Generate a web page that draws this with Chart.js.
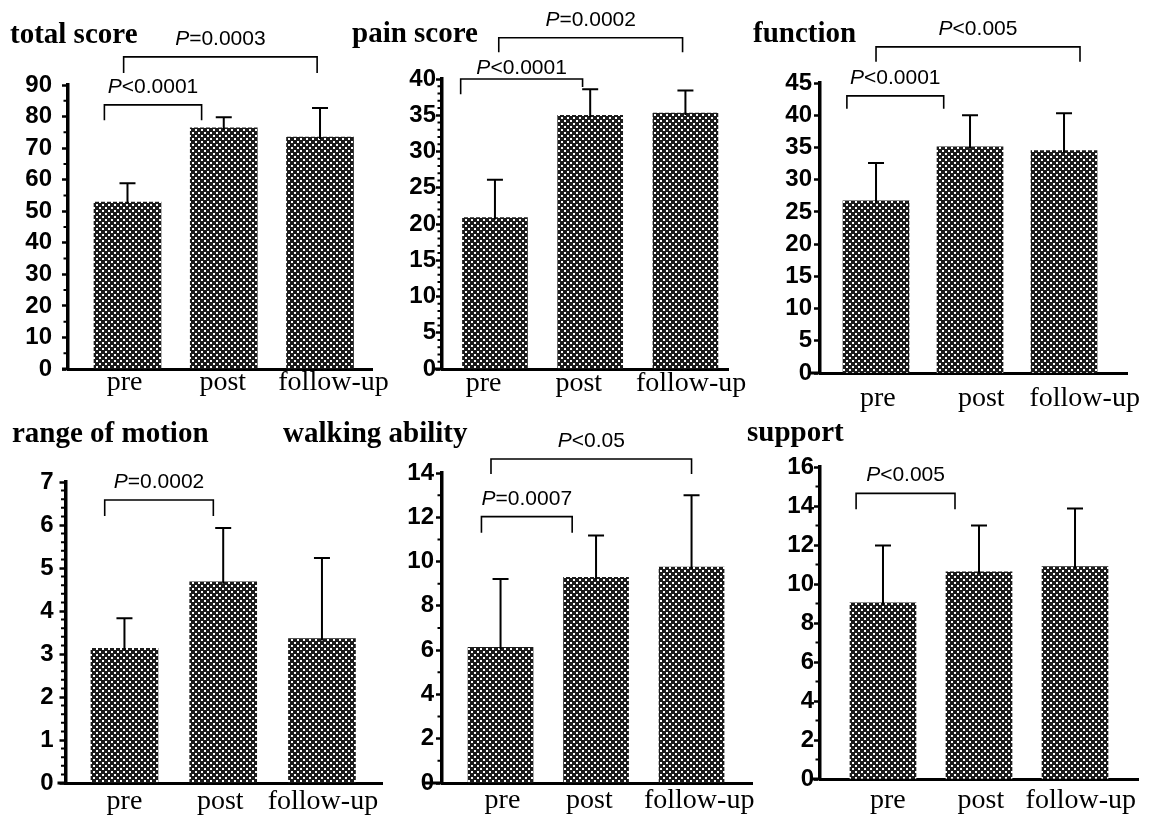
<!DOCTYPE html>
<html>
<head>
<meta charset="utf-8">
<script src="https://cdn.jsdelivr.net/npm/chart.js@4.4.1/dist/chart.umd.min.js"></script>
<style>
  html, body { margin: 0; padding: 0; background: #fff; }
  #wrap { position: relative; width: 1158px; height: 820px; overflow: hidden; }
  #wrap canvas { position: absolute; left: 0; top: 0; }
</style>
</head>
<body>
<div id="wrap"></div>
<script>
// Scores before / after / at follow-up (mean and upper SD)
const categories = ['pre', 'post', 'follow-up'];

const totalMean = [52.9, 76.4, 73.5];
const totalSD = [6.0, 3.4, 9.2];
const painMean = [20.9, 35.0, 35.3];
const painSD = [5.2, 3.6, 3.1];
const functionMean = [26.7, 35.1, 34.5];
const functionSD = [5.9, 4.9, 5.8];
const romMean = [3.13, 4.68, 3.36];
const romSD = [0.70, 1.25, 1.87];
const walkingMean = [6.13, 9.29, 9.75];
const walkingSD = [3.08, 1.89, 3.24];
const supportMean = [9.04, 10.63, 10.89];
const supportSD = [2.94, 2.37, 2.98];

// y axis: max, labelled step, minor step (0 = none)
const totalAxis = [90, 10, 5];
const painAxis = [40, 5, 1];
const functionAxis = [45, 5, 0];
const romAxis = [7, 1, 0.2];
const walkingAxis = [14, 2, 1];
const supportAxis = [16, 2, 1];

// significance brackets: x in category units, y in score units
const totalBrackets = [
    { label: 'P<0.0001', x1: -0.24, x2: 0.77, top: 83.7, leg1: 78.8, leg2: 78.8 },
    { label: 'P=0.0003', x1: -0.04, x2: 1.97, top: 98.9, leg1: 93.8, leg2: 93.8 }
];
const painBrackets = [
    { label: 'P<0.0001', x1: -0.36, x2: 0.92, top: 40.0, leg1: 37.9, leg2: 38.9, gap: 5 },
    { label: 'P=0.0002', x1: 0.04, x2: 1.97, top: 45.7, leg1: 43.7, leg2: 43.7 }
];
const functionBrackets = [
    { label: 'P<0.0001', x1: -0.31, x2: 0.72, top: 43.0, leg1: 41.0, leg2: 41.0 },
    { label: 'P<0.005', x1: 0.0, x2: 2.17, top: 50.6, leg1: 48.3, leg2: 48.3 }
];
const romBrackets = [
    { label: 'P=0.0002', x1: -0.20, x2: 0.90, top: 6.58, leg1: 6.21, leg2: 6.21 }
];
const walkingBrackets = [
    { label: 'P=0.0007', x1: -0.20, x2: 0.75, top: 12.03, leg1: 11.3, leg2: 11.3 },
    { label: 'P<0.05', x1: -0.10, x2: 2.0, top: 14.63, leg1: 13.96, leg2: 13.96 }
];
const supportBrackets = [
    { label: 'P<0.005', x1: -0.28, x2: 0.75, top: 14.65, leg1: 13.83, leg2: 13.83 }
];

const W = 1158, H = 820;

// page geometry of each panel (chart area edges in px, x range in category units)
const panels = [
    { title: 'total score', tx: 10, ty: 43, mean: totalMean, sd: totalSD, axis: totalAxis, brackets: totalBrackets,
      L: 68, R: 372, T: 85, B: 369, xMin: -0.618, xMax: 2.540, barW: 67, yPad: 10, xPad: 0, stub: 6,
      labelAt: [-0.03, 0.99, 2.14] },
    { title: 'pain score', tx: 352, ty: 42, mean: painMean, sd: painSD, axis: painAxis, brackets: painBrackets,
      L: 442, R: 728, T: 79, B: 369, xMin: -0.556, xMax: 2.447, barW: 65, yPad: 0, xPad: 0.5, stub: 10,
      labelAt: [-0.12, 0.88, 2.06] },
    { title: 'function', tx: 753, ty: 42, mean: functionMean, sd: functionSD, axis: functionAxis, brackets: functionBrackets,
      L: 820, R: 1127, T: 83, B: 373, xMin: -0.596, xMax: 2.670, barW: 66, yPad: 2, xPad: 11.5, stub: 12,
      labelAt: [0.02, 1.12, 2.22] },
    { title: 'range of motion', tx: 12, ty: 442, mean: romMean, sd: romSD, axis: romAxis, brackets: romBrackets,
      L: 65.5, R: 382, T: 482, B: 783, xMin: -0.597, xMax: 2.608, barW: 67, yPad: 6, xPad: 5, stub: 8,
      labelAt: [0.0, 0.97, 2.01] },
    { title: 'walking ability', tx: 283, ty: 442, mean: walkingMean, sd: walkingSD, axis: walkingAxis, brackets: walkingBrackets,
      L: 442, R: 752, T: 473, B: 783, xMin: -0.613, xMax: 2.633, barW: 65, yPad: 2, xPad: 3.5, stub: 17,
      labelAt: [0.02, 0.93, 2.08] },
    { title: 'support', tx: 747, ty: 441, mean: supportMean, sd: supportSD, axis: supportAxis, brackets: supportBrackets,
      L: 820, R: 1138, T: 467, B: 779, xMin: -0.656, xMax: 2.656, barW: 66, yPad: 0, xPad: 7.5, stub: 10,
      labelAt: [0.05, 1.02, 2.06] }
];

const SANS = '"Liberation Sans", Arial, Helvetica, sans-serif';
const SERIF = '"Liberation Serif", "Times New Roman", Times, serif';

function makeStipple(ctx) {
    // dotted halftone fill like the printed bars
    const tile = document.createElement('canvas');
    tile.width = 6; tile.height = 6;
    const t = tile.getContext('2d');
    t.fillStyle = '#1c1c1c';
    t.fillRect(0, 0, 6, 6);
    t.fillStyle = '#fff';
    t.fillRect(0, 0, 2, 2);
    t.fillRect(3, 3, 2, 2);
    return ctx.createPattern(tile, 'repeat');
}

function drawPLabel(ctx, label, cx, baseY) {
    const rest = label.slice(1);
    ctx.font = 'italic 21px ' + SANS;
    const w1 = ctx.measureText('P').width;
    ctx.font = '21px ' + SANS;
    const w2 = ctx.measureText(rest).width;
    const x = cx - (w1 + w2) / 2;
    ctx.textAlign = 'left';
    ctx.textBaseline = 'alphabetic';
    ctx.font = 'italic 21px ' + SANS;
    ctx.fillText('P', x, baseY);
    ctx.font = '21px ' + SANS;
    ctx.fillText(rest, x + w1, baseY);
}

function annotations(p) {
    return {
        id: 'annot_' + p.title.replace(/\s/g, '_'),
        afterDatasetsDraw(chart) {
            // upward SD whiskers
            const ctx = chart.ctx;
            const y = chart.scales.y;
            const meta = chart.getDatasetMeta(0);
            ctx.save();
            ctx.strokeStyle = '#000';
            ctx.lineWidth = 2;
            meta.data.forEach((bar, i) => {
                const yTop = y.getPixelForValue(p.mean[i] + p.sd[i]);
                ctx.beginPath();
                ctx.moveTo(bar.x, bar.y + 2);
                ctx.lineTo(bar.x, yTop);
                ctx.moveTo(bar.x - 8, yTop);
                ctx.lineTo(bar.x + 8, yTop);
                ctx.stroke();
            });
            ctx.restore();
        },
        afterDraw(chart) {
            const ctx = chart.ctx;
            const x = chart.scales.x, y = chart.scales.y;
            const area = chart.chartArea;
            ctx.save();
            ctx.fillStyle = '#000';
            ctx.strokeStyle = '#000';

            // title
            ctx.font = 'bold 29px ' + SERIF;
            ctx.textAlign = 'left';
            ctx.textBaseline = 'alphabetic';
            ctx.fillText(p.title, p.tx, p.ty);

            // minor ticks
            const [max, step, minor] = p.axis;
            if (minor) {
                ctx.lineWidth = 2;
                ctx.beginPath();
                const n = Math.round(max / minor);
                for (let k = 1; k < n; k++) {
                    const v = k * minor;
                    if (Math.abs(v / step - Math.round(v / step)) < 1e-6) continue;
                    const py = y.getPixelForValue(v);
                    ctx.moveTo(area.left - 4.5, py);
                    ctx.lineTo(area.left, py);
                }
                ctx.stroke();
            }

            // x axis runs a little past the y axis
            ctx.lineWidth = 3;
            ctx.beginPath();
            ctx.moveTo(area.left - p.stub, area.bottom);
            ctx.lineTo(area.left, area.bottom);
            ctx.stroke();

            // significance brackets
            ctx.lineWidth = 1.6;
            p.brackets.forEach(b => {
                const x1 = x.getPixelForValue(b.x1);
                const x2 = x.getPixelForValue(b.x2);
                const top = y.getPixelForValue(b.top);
                ctx.beginPath();
                ctx.moveTo(x1, y.getPixelForValue(b.leg1));
                ctx.lineTo(x1, top);
                ctx.lineTo(x2, top);
                ctx.lineTo(x2, y.getPixelForValue(b.leg2));
                ctx.stroke();
                drawPLabel(ctx, b.label, (x1 + x2) / 2, top - (b.gap || 12));
            });
            ctx.restore();
        }
    };
}

const wrap = document.getElementById('wrap');

panels.forEach(p => {
    const canvas = document.createElement('canvas');
    canvas.width = W;
    canvas.height = H;
    canvas.style.width = W + 'px';
    canvas.style.height = H + 'px';
    wrap.appendChild(canvas);
    const ctx = canvas.getContext('2d');
    const [max, step] = p.axis;

    new Chart(ctx, {
        type: 'bar',
        data: {
            datasets: [{
                data: p.mean.map((v, i) => ({ x: i, y: v })),
                backgroundColor: makeStipple(ctx),
                borderWidth: 0,
                barThickness: p.barW
            }]
        },
        options: {
            responsive: false,
            animation: false,
            devicePixelRatio: 1,
            layout: {
                padding: { left: p.L - 60, right: W - p.R, top: p.T, bottom: H - p.B - 40 }
            },
            plugins: {
                legend: { display: false },
                tooltip: { enabled: false },
                title: { display: false }
            },
            scales: {
                x: {
                    type: 'linear',
                    min: p.xMin,
                    max: p.xMax,
                    offset: false,
                    z: 1,
                    // category names sit where the printed labels sit
                    afterBuildTicks: s => { s.ticks = p.labelAt.map(v => ({ value: v })); },
                    afterFit: s => { s.height = 40; },
                    ticks: {
                        autoSkip: false,
                        maxRotation: 0,
                        padding: p.xPad,
                        color: '#000',
                        font: { family: SERIF, size: 28, lineHeight: 1 },
                        callback: (v, i) => categories[i]
                    },
                    grid: { display: true, offset: false, drawOnChartArea: false, drawTicks: false },
                    border: { display: true, color: '#000', width: 3 }
                },
                y: {
                    type: 'linear',
                    min: 0,
                    max: max,
                    z: 1,
                    afterFit: s => { s.width = 60; },
                    ticks: {
                        stepSize: step,
                        autoSkip: false,
                        padding: p.yPad,
                        color: '#000',
                        font: { family: SANS, size: 24, weight: 'bold', lineHeight: 1 }
                    },
                    grid: { drawOnChartArea: false, drawTicks: true, tickLength: 6, tickWidth: 2.5, tickColor: '#000' },
                    border: { display: true, color: '#000', width: 3.5 }
                }
            }
        },
        plugins: [annotations(p)]
    });
});
</script>
</body>
</html>
